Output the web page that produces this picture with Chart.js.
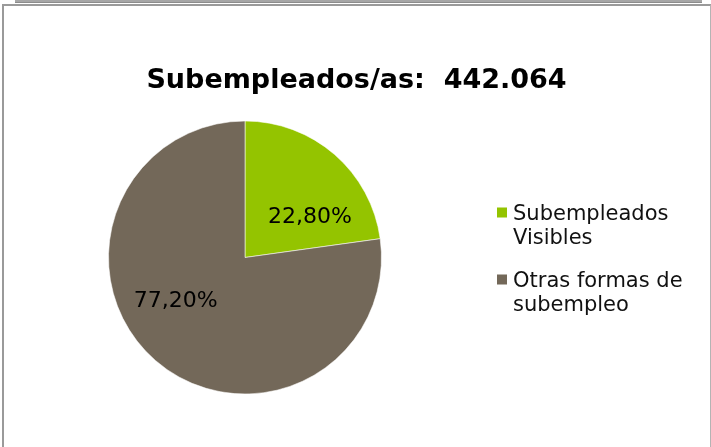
<!DOCTYPE html>
<html>
<head>
<meta charset="utf-8">
<script src="https://cdn.jsdelivr.net/npm/chart.js@4/dist/chart.umd.min.js"></script>
<style>
  html, body { margin: 0; padding: 0; background: #fff; }
  #wrap { position: relative; width: 711px; height: 447px; overflow: hidden; }
  .topbar { position: absolute; left: 15px; top: 0; width: 687px; height: 2px; background: #a6a6a6; border-bottom: 1px solid #8c8c8c; }
  .frame { position: absolute; left: 2px; top: 4px; width: 706px; height: 460px;
           border-left: 2px solid #9a9a9a; border-top: 2px solid #9a9a9a; border-right: 1px solid #b4b4b4; }
  canvas { position: absolute; left: 0; top: 0; }
</style>
</head>
<body>
<div id="wrap">
  <div class="topbar"></div>
  <div class="frame"></div>
  <canvas id="chart" width="711" height="447"></canvas>
</div>
<script>
// Data
const titleText = 'Subempleados/as:  442.064';
const categories = ['Subempleados Visibles', 'Otras formas de subempleo'];
const legendLines = [['Subempleados', 'Visibles'], ['Otras formas de', 'subempleo']];
const shares = [22.8, 77.2];

const colors = {
  green: '#94c400',
  brown: '#736859',
  text: '#000000'
};

// where each percentage sits inside its slice (fraction of sweep, fraction of radius)
const labelSpots = [
  { sweep: 0.71, radius: 0.56 },
  { sweep: 0.56, radius: 0.60 }
];

const fmtPct = v => v.toFixed(2).replace('.', ',') + '%';

// titles, labels and the wrapped legend are drawn here
const textPlugin = {
  id: 'textPlugin',
  afterDraw(chart) {
    const ctx = chart.ctx;
    const area = chart.chartArea;
    const arcs = chart.getDatasetMeta(0).data;
    ctx.save();

    // title
    ctx.fillStyle = colors.text;
    ctx.font = "bold 27px 'DejaVu Sans', sans-serif";
    ctx.textAlign = 'center';
    ctx.textBaseline = 'alphabetic';
    ctx.fillText(titleText, chart.width / 2 + 1, 88);

    // percentages
    ctx.font = "22px 'DejaVu Sans', sans-serif";
    ctx.textBaseline = 'middle';
    arcs.forEach((arc, i) => {
      const p = arc.getProps(['x', 'y', 'startAngle', 'endAngle', 'outerRadius'], true);
      const a = p.startAngle + labelSpots[i].sweep * (p.endAngle - p.startAngle);
      const r = labelSpots[i].radius * p.outerRadius;
      ctx.fillText(fmtPct(shares[i]), p.x + Math.cos(a) * r, p.y + Math.sin(a) * r);
    });

    // legend, two lines per entry
    const lineH = 24, gap = 19;
    const boxX = area.right + 115, textX = boxX + 16;
    const cy = (area.top + area.bottom) / 2;
    let base = cy - 38;
    ctx.font = "21px 'DejaVu Sans', sans-serif";
    ctx.textAlign = 'left';
    ctx.textBaseline = 'alphabetic';
    legendLines.forEach((lines, i) => {
      ctx.fillStyle = [colors.green, colors.brown][i];
      ctx.fillRect(boxX, base - 12, 10, 10);
      ctx.fillStyle = '#111';
      lines.forEach((t, j) => ctx.fillText(t, textX, base + j * lineH));
      base += lines.length * lineH + gap;
    });

    ctx.restore();
  }
};

new Chart(document.getElementById('chart'), {
  type: 'pie',
  data: {
    labels: categories,
    datasets: [{
      data: shares,
      backgroundColor: [colors.green, colors.brown],
      borderColor: 'rgba(255,255,255,0.55)',
      borderWidth: 1
    }]
  },
  options: {
    responsive: false,
    animation: false,
    layout: { padding: { left: 108, right: 329, top: 120, bottom: 52 } },
    plugins: {
      legend: { display: false },
      title: { display: false },
      tooltip: { enabled: false }
    }
  },
  plugins: [textPlugin]
});
</script>
</body>
</html>
